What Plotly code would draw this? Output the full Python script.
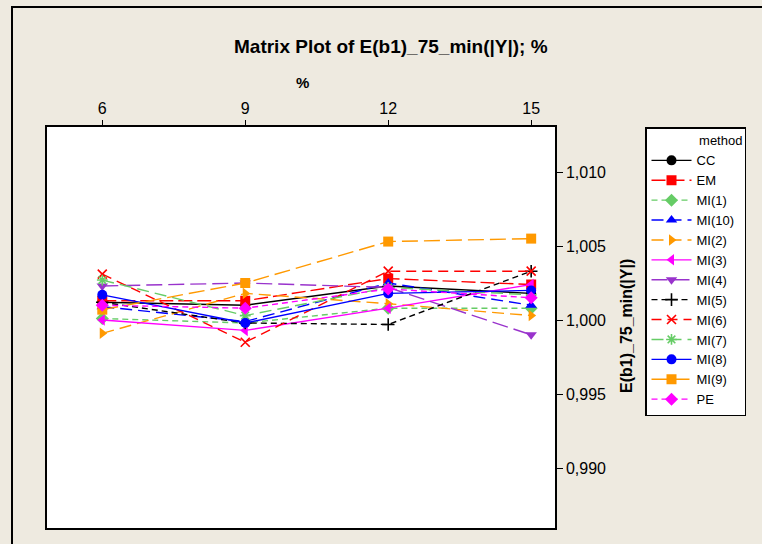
import plotly.graph_objects as go

# x categories (percent)
pct = [6, 9, 12, 15]

# mean E(b1)_75_min(|Y|) per method
cc    = [1.0012, 1.0010, 1.0023, 1.0018]
em    = [1.0013, 1.0013, 1.0028, 1.0024]
mi1   = [1.0001, 0.9998, 1.0008, 1.0008]
mi10  = [1.0009, 0.9999, 1.0025, 1.0010]
mi2   = [0.9991, 1.0018, 1.0011, 1.0003]
mi3   = [1.0000, 0.9993, 1.0008, 1.0024]
mi4   = [1.0023, 1.0025, 1.0022, 0.9990]
mi5   = [1.0012, 0.9998, 0.9997, 1.0033]
mi6   = [1.0031, 0.9985, 1.0033, 1.0033]
mi7   = [1.0027, 1.0003, 1.0022, 1.0017]
mi8   = [1.0017, 0.9998, 1.0018, 1.0020]
mi9   = [1.0007, 1.0025, 1.0053, 1.0055]
pe    = [1.0010, 1.0008, 1.0021, 1.0015]

methods = ["CC", "EM", "MI(1)", "MI(10)", "MI(2)", "MI(3)", "MI(4)",
           "MI(5)", "MI(6)", "MI(7)", "MI(8)", "MI(9)", "PE"]
values = [cc, em, mi1, mi10, mi2, mi3, mi4, mi5, mi6, mi7, mi8, mi9, pe]

GREEN = "#66CC66"
ORANGE = "#FF9900"
PURPLE = "#9933CC"
styles = [
    ("black",   "circle",         "solid"),
    ("#FF0000", "square",         "14px,5px"),
    (GREEN,     "diamond",        "6px,4px"),
    ("#0000FF", "triangle-up",    "12px,6px"),
    (ORANGE,    "triangle-right", "12px,6px"),
    ("#FF00FF", "triangle-left",  "solid"),
    (PURPLE,    "triangle-down",  "16px,6px"),
    ("black",   "cross-thin",     "6px,4px"),
    ("#FF0000", "x-thin",         "10px,6px"),
    (GREEN,     "asterisk",       "12px,6px"),
    ("#0000FF", "circle",         "solid"),
    (ORANGE,    "square",         "16px,6px"),
    ("#FF00FF", "diamond",        "6px,4px"),
]

fig = go.Figure()
for name, vals, (col, sym, dash) in zip(methods, values, styles):
    thin = sym in ("cross-thin", "x-thin", "asterisk")
    fig.add_trace(go.Scatter(
        x=pct, y=vals, name=name, mode="lines+markers",
        line=dict(color=col, width=1.4, dash=dash),
        marker=dict(symbol=sym, size=10 if not thin else 9, color=col,
                    line=dict(color=col, width=1.6 if thin else 0)),
    ))

W, H = 762, 544
L, R, T, B = 47, 555, 127, 528


def px(x):
    return (x - L) / (R - L)


def py(y):
    return (B - y) / (B - T)


def label(text, x, y, size, angle=0):
    return dict(text=text, x=px(x), y=py(y), xref="paper", yref="paper",
                xanchor="center", yanchor="middle", textangle=angle,
                showarrow=False, font=dict(size=size))


fig.update_layout(
    width=W, height=H,
    margin=dict(l=L, r=W - R, t=T, b=H - B, pad=0),
    paper_bgcolor="#EEEAE0",
    plot_bgcolor="white",
    separators=",.",
    font=dict(family="Liberation Sans, Arial, sans-serif", color="black", size=16),
    showlegend=True,
    legend=dict(
        x=px(645), y=py(127), xanchor="left", yanchor="top",
        bgcolor="white", bordercolor="black", borderwidth=1.5,
        font=dict(size=13), itemwidth=40,
        title=dict(text="\u00a0" * 14 + "method", font=dict(size=13)),
    ),
    xaxis=dict(
        side="top", range=[4.84, 15.5], tickvals=pct, ticks="outside",
        ticklen=5, tickwidth=1, tickcolor="black",
        showline=True, mirror=True, linecolor="black", linewidth=1.5,
        showgrid=False, zeroline=False, tickfont=dict(size=16),
    ),
    yaxis=dict(
        side="right", range=[0.98595, 1.01304],
        tickvals=[0.990, 0.995, 1.000, 1.005, 1.010], tickformat=".3f",
        ticks="outside", ticklen=6, tickwidth=1, tickcolor="black",
        showline=True, mirror=True, linecolor="black", linewidth=1.5,
        showgrid=False, zeroline=False, tickfont=dict(size=16),
    ),
    annotations=[
        label("<b>Matrix Plot of E(b1)_75_min(|Y|); %</b>", 391, 46, 19),
        label("<b>%</b>", 302, 83, 15),
        label("<b>E(b1)_75_min(|Y|)</b>", 626, 326, 16, angle=-90),
    ],
    shapes=[
        dict(type="rect", xref="paper", yref="paper",
             x0=px(12), y0=py(560), x1=px(780), y1=py(7),
             line=dict(color="black", width=2)),
    ],
)

fig.write_html("out.html")
